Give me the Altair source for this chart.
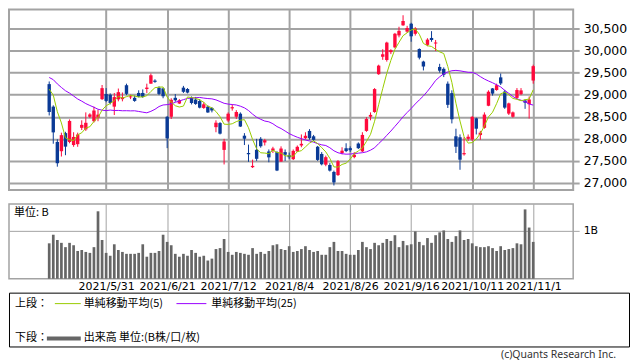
import altair as alt
import pandas as pd

# ---------------- data ----------------
days = ["5/11", "5/12", "5/13", "5/14", "5/17", "5/18", "5/19", "5/20", "5/21", "5/24",
        "5/25", "5/26", "5/27", "5/28", "5/31",
        "6/1", "6/2", "6/3", "6/4", "6/7", "6/8", "6/9", "6/10", "6/11", "6/14", "6/15",
        "6/16", "6/17", "6/18", "6/21", "6/22", "6/23", "6/24", "6/25", "6/28", "6/29", "6/30",
        "7/1", "7/2", "7/5", "7/6", "7/7", "7/8", "7/9", "7/12", "7/13", "7/14", "7/15",
        "7/16", "7/19", "7/20", "7/21", "7/26", "7/27", "7/28", "7/29", "7/30",
        "8/2", "8/3", "8/4", "8/5", "8/6", "8/10", "8/11", "8/12", "8/13", "8/16", "8/17",
        "8/18", "8/19", "8/20", "8/23", "8/24", "8/25", "8/26", "8/27", "8/30", "8/31",
        "9/1", "9/2", "9/3", "9/6", "9/7", "9/8", "9/9", "9/10", "9/13", "9/14", "9/15",
        "9/16", "9/17", "9/21", "9/22", "9/24", "9/27", "9/28", "9/29", "9/30",
        "10/1", "10/4", "10/5", "10/6", "10/7", "10/8", "10/11", "10/12", "10/13", "10/14",
        "10/15", "10/18", "10/19", "10/20", "10/21", "10/22", "10/25", "10/26", "10/27",
        "10/28", "10/29", "11/1"]
dates = ["2021/" + d for d in days]

opens = [29240, 28730, 27930, 27720, 28130, 27930, 27860, 27880, 28250, 28215,
         28500, 28400, 28480, 28900, 29015, 29000, 28730, 28895, 28900, 29215,
         28940, 28930, 29040, 29040, 29130, 29250, 29320, 29157, 29143, 28500,
         28500, 28930, 28800, 29160, 29130, 28930, 28890, 28857, 28700, 28730,
         28700, 28265, 28358, 27750, 28415, 28690, 28500, 28570, 28072, 27680,
         27358, 27751, 28001, 27915, 27715, 27730, 27700, 27487, 27700, 27630,
         27540, 27715, 27850, 28015, 28180, 28058, 27822, 27658, 27415, 27408,
         27251, 27180, 27680, 27787, 27790, 27587, 27894, 27716, 28180, 28502,
         28608, 29465, 29860, 29787, 29965, 30072, 30344, 30572, 30429, 30608,
         30380, 30036, 29751, 30129, 30286, 30160, 29629, 29586, 29250, 29036,
         28058, 28036, 27650, 28000, 27986, 28465, 28086, 28250, 28750, 29143,
         29107, 29393, 29071, 28572, 28500, 28929, 29014, 28870, 28786, 29321]
highs = [29300, 28760, 27990, 28140, 28160, 28440, 28150, 28140, 28420, 28600,
         28580, 28730, 28660, 29220, 29150, 29030, 29040, 29140, 29050, 29250,
         29000, 28980, 29100, 29120, 29250, 29480, 29350, 29190, 29160, 28520,
         28920, 29015, 28900, 29200, 29150, 28960, 28950, 28900, 28830, 28760,
         28720, 28420, 28380, 28000, 28600, 28780, 28650, 28600, 28130, 27870,
         27530, 28000, 28040, 28000, 27760, 27820, 27720, 27830, 27760, 27690,
         27760, 27850, 28100, 28150, 28220, 28090, 27840, 27700, 27620, 27450,
         27280, 27520, 27810, 27900, 27830, 27700, 27920, 28150, 28490, 28600,
         29150, 29680, 30030, 30200, 30030, 30400, 30540, 30800, 30560, 30630,
         30530, 30050, 29770, 30280, 30440, 30240, 29700, 29620, 29300, 29100,
         28230, 28100, 28040, 28100, 28520, 28480, 28180, 28600, 29100, 29150,
         29250, 29480, 29110, 28820, 28620, 29150, 29150, 28900, 28960, 29680]
lows = [28530, 27890, 27370, 27600, 27630, 27900, 27820, 27820, 28200, 28180,
        28470, 28370, 28400, 28880, 28830, 28780, 28540, 28850, 28850, 28990,
        28900, 28840, 28940, 28930, 29040, 29250, 29270, 28990, 28920, 27790,
        28450, 28840, 28790, 29040, 29030, 28780, 28770, 28690, 28680, 28590,
        28600, 28150, 28100, 27420, 28380, 28640, 28450, 28270, 27860, 27480,
        27340, 27500, 27800, 27850, 27470, 27680, 27270, 27480, 27500, 27540,
        27520, 27700, 27810, 27990, 27980, 27950, 27500, 27400, 27380, 27260,
        26944, 27160, 27650, 27700, 27700, 27560, 27770, 27700, 28160, 28420,
        28590, 29450, 29790, 29750, 29920, 30050, 30300, 30560, 30400, 30200,
        30340, 29800, 29550, 30100, 30200, 29990, 29500, 29400, 28700, 28350,
        27680, 27300, 27620, 27950, 27950, 28100, 27980, 28230, 28740, 28980,
        29090, 29220, 28680, 28540, 28480, 28900, 28990, 28680, 28460, 29250]
closes = [28608, 28147, 27448, 28084, 27824, 28406, 28044, 28098, 28317, 28364,
          28553, 28642, 28549, 29149, 28860, 28814, 28946, 29058, 28941, 29019,
          28963, 28860, 28958, 28948, 29161, 29441, 29291, 29018, 28964, 28011,
          28884, 28874, 28875, 29066, 29048, 28812, 28791, 28707, 28783, 28598,
          28643, 28366, 28118, 27940, 28569, 28718, 28608, 28279, 28003, 27652,
          27388, 27548, 27833, 27970, 27581, 27782, 27283, 27781, 27641, 27584,
          27728, 27820, 27888, 28070, 28015, 27977, 27523, 27424, 27585, 27281,
          27013, 27494, 27732, 27724, 27742, 27641, 27789, 28089, 28451, 28543,
          29128, 29659, 29916, 30181, 30008, 30381, 30447, 30670, 30511, 30323,
          30500, 29839, 29639, 30248, 30240, 30183, 29544, 29452, 28771, 28444,
          27822, 27528, 27678, 28048, 28498, 28230, 28140, 28550, 29068, 29025,
          29215, 29255, 28708, 28804, 28600, 29106, 29098, 28820, 28892, 29647]
# closes of the 24 sessions before the first candle (moving-average warm-up)
prior_closes = [29388, 29854, 30089, 29696, 29730, 29708, 29768, 29538, 29751, 29620,
                29642, 29683, 29685, 29100, 28508, 29188, 29020, 29126, 28991, 29053,
                28812, 29331, 29357, 29518]
volumes = [0.74, 0.92, 0.81, 0.75, 0.66, 0.75, 0.70, 0.58, 0.60, 0.56,
           0.54, 0.66, 1.41, 0.81, 0.54, 0.48, 0.72, 0.60, 0.56, 0.52,
           0.52, 0.52, 0.54, 0.72, 0.46, 0.54, 0.54, 0.58, 0.92, 0.77,
           0.70, 0.52, 0.46, 0.52, 0.48, 0.60, 0.54, 0.46, 0.48, 0.38,
           0.42, 0.62, 0.64, 0.83, 0.56, 0.50, 0.56, 0.54, 0.52, 0.50,
           0.64, 0.52, 0.56, 0.52, 0.58, 0.70, 0.72, 0.62, 0.60, 0.68,
           0.56, 0.58, 0.62, 0.68, 0.60, 0.56, 0.58, 0.50, 0.50, 0.66,
           0.77, 0.58, 0.58, 0.52, 0.50, 0.50, 0.60, 0.77, 0.66, 0.62,
           0.75, 0.70, 0.75, 0.83, 0.79, 0.91, 0.66, 0.79, 0.70, 0.72,
           0.99, 0.77, 0.70, 0.85, 0.75, 0.91, 0.97, 1.01, 0.83, 0.77,
           0.89, 1.01, 0.81, 0.83, 0.74, 0.68, 0.66, 0.66, 0.68, 0.64,
           0.58, 0.68, 0.60, 0.62, 0.64, 0.74, 0.72, 1.45, 1.07, 0.77]

tick_labels = ["2021/5/31", "2021/6/21", "2021/7/12", "2021/8/4",
               "2021/8/26", "2021/9/16", "2021/10/11", "2021/11/1"]
price_ticks = [27000, 27500, 28000, 28500, 29000, 29500, 30000, 30500]
volume_ticks = [1]
volume_tick_label = "1B"
unit_label = "単位: B"
legend_top_head = "上段："
legend_ma5 = "単純移動平均(5)"
legend_ma25 = "単純移動平均(25)"
legend_bottom_head = "下段："
legend_volume = "出来高 単位:(B株/口/枚)"
credit = "(c)Quants Research Inc."

# ---------------- styling ----------------
RED = "#ff0a3c"
BLUE = "#0a3a96"
GREEN = "#99cc00"
PURPLE = "#9900ff"
GRID = "#a3a3a3"
VOLCOL = "#666666"
W = 566
H_TOP = 181
H_VOL = 75
X_DOMAIN = [-8.66, 127.6]
Y_DOMAIN = [26842, 30929]
V_DOMAIN = [0, 1.564]
FONT = "DejaVu Sans"
JFONT = "Noto Sans CJK JP"

n = len(dates)
candles = pd.DataFrame({
    "i": list(range(n)), "date": dates, "open": opens, "high": highs,
    "low": lows, "close": closes, "volume": volumes,
})
candles["dir"] = ["up" if c >= o else "down" for o, c in zip(opens, closes)]

ma_src = pd.DataFrame({
    "i": list(range(-len(prior_closes), n)),
    "close": prior_closes + closes,
})

tick_pos = [dates.index(t) for t in tick_labels]
label_expr = ("[" + ",".join("'%s'" % t for t in tick_labels) + "][indexof(["
              + ",".join(str(p) for p in tick_pos) + "], datum.value)]")

x_scale = alt.Scale(domain=X_DOMAIN, nice=False, zero=False)
x_axis_top = alt.Axis(values=tick_pos, labels=False, ticks=False, domain=False,
                      grid=True, gridColor=GRID, gridWidth=2, title=None)
y_axis_top = alt.Axis(orient="right", values=price_ticks, format=",d", grid=True,
                      gridColor=GRID, gridWidth=2, ticks=True, tickSize=6,
                      tickColor=GRID, tickWidth=2, domain=False, labelPadding=4,
                      labelFont=FONT, labelFontSize=12.5, labelColor="#000000",
                      title=None)
y_scale_top = alt.Scale(domain=Y_DOMAIN, nice=False, zero=False)

X = alt.X("i:Q", scale=x_scale, axis=x_axis_top)
color = alt.Color("dir:N", scale=alt.Scale(domain=["up", "down"], range=[RED, BLUE]),
                  legend=None)

base = alt.Chart(candles)
wicks = base.mark_rule(strokeWidth=1).encode(
    x=X, y=alt.Y("low:Q", scale=y_scale_top, axis=y_axis_top), y2="high:Q", color=color)
bodies = base.mark_bar(size=3.4).encode(
    x=X, y=alt.Y("open:Q", scale=y_scale_top, axis=y_axis_top), y2="close:Q", color=color)

ma_base = alt.Chart(ma_src).transform_window(
    sma5="mean(close)", frame=[-4, 0], sort=[alt.SortField("i")]
).transform_window(
    sma25="mean(close)", frame=[-24, 0], sort=[alt.SortField("i")]
).transform_filter("datum.i >= 0")
ma25 = ma_base.mark_line(color=PURPLE, strokeWidth=1).encode(
    x=X, y=alt.Y("sma25:Q", scale=y_scale_top, axis=y_axis_top))
ma5 = ma_base.mark_line(color=GREEN, strokeWidth=1).encode(
    x=X, y=alt.Y("sma5:Q", scale=y_scale_top, axis=y_axis_top))

top = alt.layer(wicks, bodies, ma25, ma5).properties(
    width=W, height=H_TOP,
    view=alt.ViewBackground(stroke=GRID, strokeWidth=2, fill="white"))

# volume panel
x_axis_vol = alt.Axis(values=tick_pos, labelExpr=label_expr, ticks=False, domain=False,
                      grid=True, gridColor=GRID, gridWidth=1, labelPadding=2,
                      labelFont=FONT, labelFontSize=11, labelColor="#000000",
                      labelOverlap=False, title=None)
y_axis_vol = alt.Axis(orient="right", values=volume_ticks, labelExpr="'%s'" % volume_tick_label,
                      grid=True, gridColor=GRID, gridWidth=1, ticks=True, tickSize=6,
                      tickColor=GRID, domain=False, labelPadding=4, labelFont=FONT,
                      labelFontSize=11, labelColor="#000000", title=None)
vol_bars = base.mark_bar(size=2.7, color=VOLCOL).encode(
    x=alt.X("i:Q", scale=x_scale, axis=x_axis_vol),
    y=alt.Y("volume:Q", scale=alt.Scale(domain=V_DOMAIN, nice=False), axis=y_axis_vol))
unit_text = alt.Chart(pd.DataFrame({"t": [unit_label]})).mark_text(
    align="left", baseline="middle", font=JFONT, fontSize=11, color="#000000"
).encode(x=alt.value(5), y=alt.value(9), text="t:N")
vol = alt.layer(vol_bars, unit_text).properties(
    width=W, height=H_VOL,
    view=alt.ViewBackground(stroke=GRID, strokeWidth=1.5, fill="white"))


# legend panel
def txt(s, x, y, align="left", font=JFONT, size=11, col="#000000"):
    return alt.Chart(pd.DataFrame({"t": [s]})).mark_text(
        align=align, baseline="middle", font=font, fontSize=size, color=col
    ).encode(x=alt.value(x), y=alt.value(y), text="t:N")


def seg(x1, x2, y, col, w):
    return alt.Chart(pd.DataFrame({"a": [0]})).mark_rule(color=col, strokeWidth=w).encode(
        x=alt.value(x1), x2=alt.value(x2), y=alt.value(y))


LEG_W = 622
LEG_H = 54
legend = alt.layer(
    txt(legend_top_head, 6, 11),
    seg(46, 72, 11, GREEN, 1),
    txt(legend_ma5, 75, 11),
    seg(168, 198, 11, PURPLE, 1),
    txt(legend_ma25, 203, 11),
    txt(legend_bottom_head, 6, 46),
    seg(38, 72, 46, VOLCOL, 4),
    txt(legend_volume, 75, 46),
    txt(credit, 609, 63, align="right", font="Noto Sans", size=10.5, col="#333333"),
).properties(width=LEG_W, height=LEG_H,
             view=alt.ViewBackground(stroke="#000000", strokeWidth=1, fill="white"))

chart = alt.vconcat(top, vol, legend, spacing=14, bounds="flush").properties(
    padding=0, background="white")

chart.save("out.html", embed_options={"renderer": "svg", "actions": False})
